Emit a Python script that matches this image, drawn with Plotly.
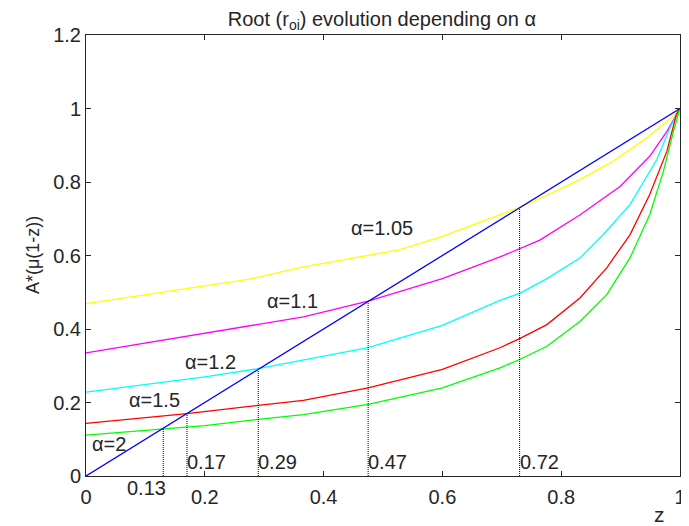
import plotly.graph_objects as go

# ---- data ----
z_a105 = [0, 0.1, 0.2, 0.273, 0.36, 0.45, 0.529, 0.6, 0.697, 0.73, 0.8, 0.832, 0.888, 0.944, 0.978, 1]
y_a105 = [0.469, 0.493, 0.517, 0.535, 0.567, 0.592, 0.616, 0.652, 0.712, 0.731, 0.782, 0.807, 0.857, 0.920, 0.965, 1]

z_a11 = [0, 0.1, 0.2, 0.3, 0.366, 0.475, 0.6, 0.697, 0.73, 0.764, 0.832, 0.899, 0.949, 0.978, 1]
y_a11 = [0.335, 0.362, 0.389, 0.415, 0.433, 0.476, 0.537, 0.596, 0.619, 0.642, 0.711, 0.788, 0.870, 0.938, 1]

z_a12 = [0, 0.1, 0.2, 0.29, 0.366, 0.475, 0.6, 0.697, 0.73, 0.776, 0.832, 0.871, 0.916, 0.961, 0.983, 1]
y_a12 = [0.228, 0.25, 0.27, 0.292, 0.315, 0.349, 0.41, 0.478, 0.497, 0.537, 0.594, 0.657, 0.739, 0.861, 0.947, 1]

z_a15 = [0, 0.1, 0.17, 0.29, 0.366, 0.475, 0.6, 0.697, 0.73, 0.776, 0.832, 0.877, 0.916, 0.949, 0.978, 0.994, 1]
y_a15 = [0.143, 0.158, 0.170, 0.192, 0.206, 0.240, 0.29, 0.349, 0.374, 0.412, 0.485, 0.567, 0.657, 0.766, 0.884, 0.984, 1]

z_a2 = [0, 0.13, 0.2, 0.29, 0.366, 0.475, 0.6, 0.697, 0.73, 0.776, 0.832, 0.877, 0.916, 0.949, 0.972, 0.989, 1]
y_a2 = [0.111, 0.127, 0.137, 0.154, 0.167, 0.195, 0.24, 0.294, 0.317, 0.353, 0.421, 0.494, 0.594, 0.711, 0.829, 0.938, 1]

z_diag = [0, 1]
y_diag = [0, 1]

root_z = [0.13, 0.17, 0.29, 0.475, 0.73]
root_labels = ["0.13", "0.17", "0.29", "0.47", "0.72"]

alpha_labels = ["α=1.05", "α=1.1", "α=1.2", "α=1.5", "α=2"]
alpha_x = [0.498, 0.347, 0.209, 0.116, 0.039]
alpha_y = [0.676, 0.477, 0.310, 0.207, 0.087]

x_ticks = [0, 0.2, 0.4, 0.6, 0.8, 1]
x_ticktext = ["0", "0.2", "0.4", "0.6", "0.8", "1"]
y_ticks = [0, 0.2, 0.4, 0.6, 0.8, 1, 1.2]
y_ticktext = ["0", "0.2", "0.4", "0.6", "0.8", "1", "1.2"]

FONT = "Liberation Sans, Arial, sans-serif"
TXT = "#262626"

fig = go.Figure()

series = [
    (z_a105, y_a105, "#ffff00"),
    (z_a11, y_a11, "#ff00ff"),
    (z_a12, y_a12, "#00ffff"),
    (z_a15, y_a15, "#ff0000"),
    (z_a2, y_a2, "#00ff00"),
]
for zs, ys, col in series:
    fig.add_trace(go.Scatter(x=zs, y=ys, mode="lines",
                             line=dict(color=col, width=1.3), showlegend=False))

fig.add_trace(go.Scatter(x=z_diag, y=y_diag, mode="lines",
                         line=dict(color="#0000ff", width=1.3), showlegend=False))

for r in root_z:
    fig.add_trace(go.Scatter(x=[r, r], y=[0, r], mode="lines",
                             line=dict(color="black", width=1, dash="1px,1px"),
                             showlegend=False))

# alpha labels
for t, ax_, ay_ in zip(alpha_labels, alpha_x, alpha_y):
    fig.add_annotation(x=ax_, y=ay_, text=t, showarrow=False,
                       font=dict(family=FONT, size=20, color=TXT),
                       xanchor="center", yanchor="middle")

# root labels
YMAX = 1.2
for i, (r, t) in enumerate(zip(root_z, root_labels)):
    if i == 0:
        fig.add_annotation(x=r, xref="x", y=-0.033 / YMAX, yref="paper", text=t,
                           showarrow=False,
                           font=dict(family=FONT, size=20, color=TXT),
                           xanchor="right", yanchor="middle", xshift=5)
    else:
        fig.add_annotation(x=r, y=0.037, text=t, showarrow=False,
                           font=dict(family=FONT, size=20, color=TXT),
                           xanchor="left", yanchor="middle", xshift=-2)

# x axis label "z"
fig.add_annotation(x=0.966, xref="paper", y=-0.087, yref="paper", text="z",
                   showarrow=False,
                   font=dict(family=FONT, size=21, color=TXT),
                   xanchor="center", yanchor="middle")

# y axis label
fig.add_annotation(x=-0.09, xref="paper", y=0.5, yref="paper", text="A*(μ(1-z))",
                   showarrow=False, textangle=-90,
                   font=dict(family=FONT, size=18, color=TXT),
                   xanchor="center", yanchor="middle")

# page body has an 8px default margin, so the figure is sized to fit inside it
fig.update_layout(
    width=681, height=518,
    margin=dict(l=78, r=9, t=27, b=50, autoexpand=False),
    plot_bgcolor="white", paper_bgcolor="white",
    title=dict(text="Root (r<sub>oi</sub>) evolution depending on α",
               x=0.549, xanchor="center", xref="container",
               y=0.979, yanchor="middle", yref="container",
               font=dict(family=FONT, size=20, color=TXT)),
    font=dict(family=FONT, color=TXT),
)

fig.update_xaxes(range=[0, 1], tickvals=x_ticks, ticktext=x_ticktext,
                 ticks="inside", ticklen=5, tickcolor="#262626",
                 showline=True, linecolor="#262626", linewidth=1, mirror="ticks",
                 showgrid=False, zeroline=False, automargin=False,
                 ticklabelstandoff=3,
                 tickfont=dict(family=FONT, size=20, color=TXT))
fig.update_yaxes(range=[0, YMAX], tickvals=y_ticks, ticktext=y_ticktext,
                 ticks="inside", ticklen=5, tickcolor="#262626",
                 showline=True, linecolor="#262626", linewidth=1, mirror="ticks",
                 showgrid=False, zeroline=False, automargin=False,
                 tickfont=dict(family=FONT, size=20, color=TXT))

fig.write_html("out.html")
